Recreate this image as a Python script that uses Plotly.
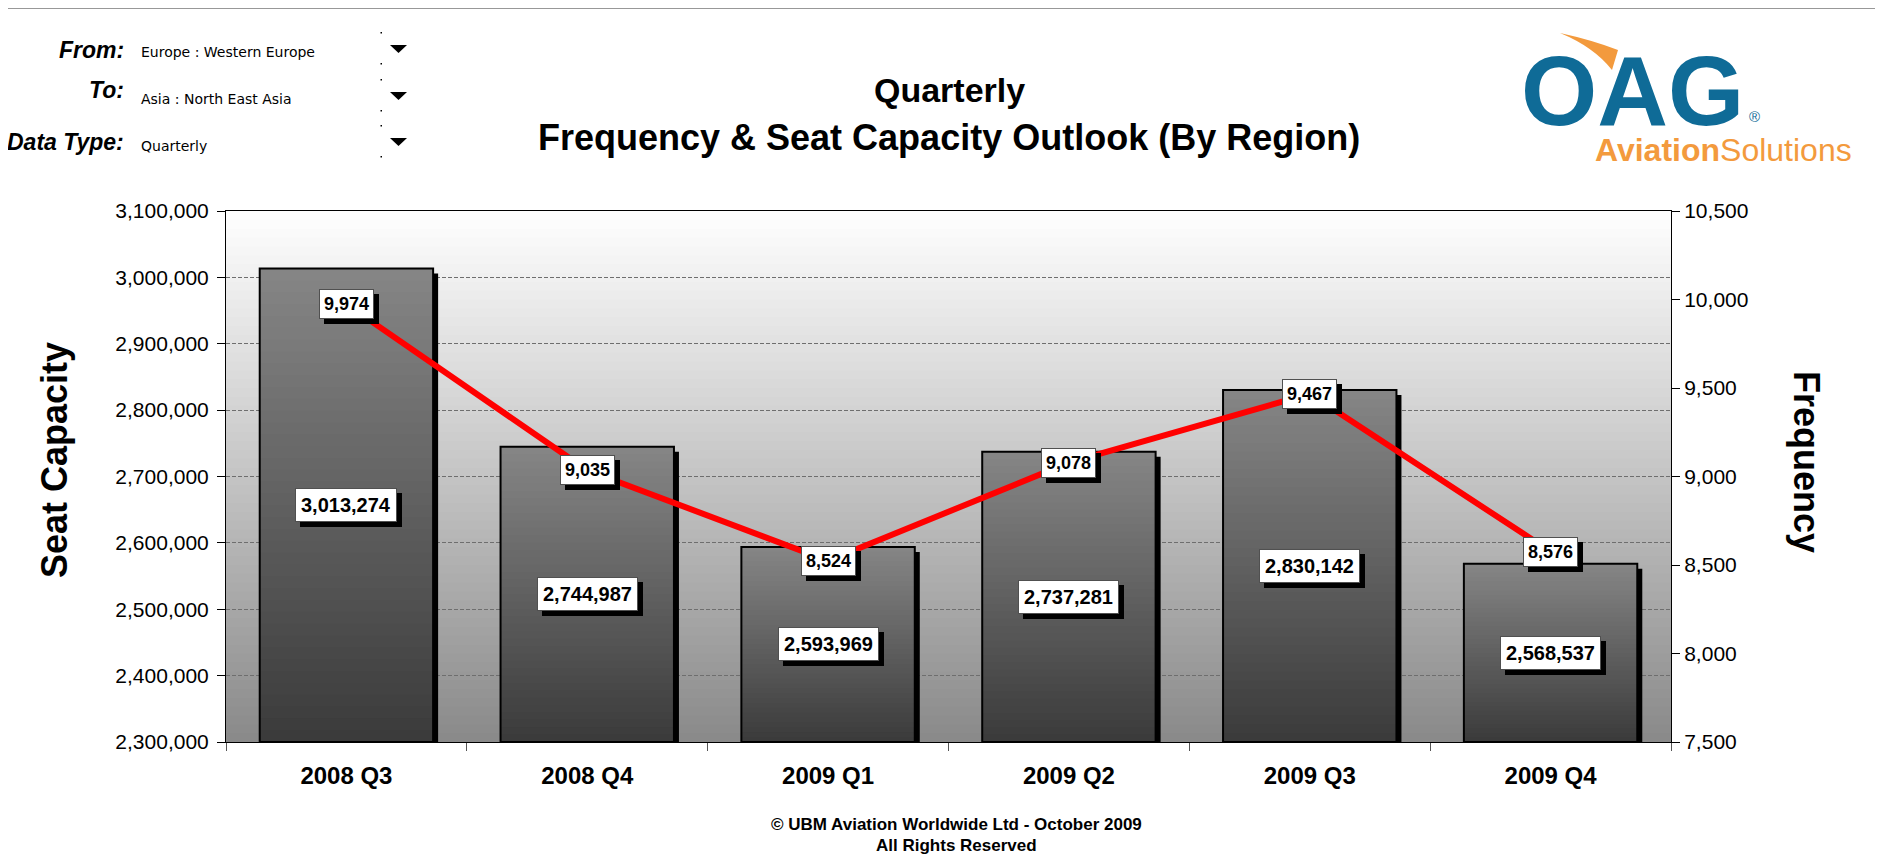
import plotly.graph_objects as go

# ---------------- data ----------------
quarters = ["2008 Q3", "2008 Q4", "2009 Q1", "2009 Q2", "2009 Q3", "2009 Q4"]
seat_capacity = [3013274, 2744987, 2593969, 2737281, 2830142, 2568537]
frequency = [9974, 9035, 8524, 9078, 9467, 8576]
seat_ticks = [2300000, 2400000, 2500000, 2600000, 2700000, 2800000, 2900000, 3000000, 3100000]
freq_ticks = [7500, 8000, 8500, 9000, 9500, 10000, 10500]

title_line1 = "Quarterly"
title_line2 = "Frequency & Seat Capacity Outlook (By Region)"
filters = [("From:", "Europe : Western Europe"),
           ("To:", "Asia : North East Asia"),
           ("Data Type:", "Quarterly")]
footer1 = "© UBM Aviation Worldwide Ltd - October 2009"
footer2 = "All Rights Reserved"

# ---------------- layout geometry (screen pixels) ----------------
W, H = 1883, 866
OFF = 8                      # default page margin around the plot div
FW, FH = W - 2 * OFF, H - 2 * OFF
L, R, T, B = 226, 1671, 211, 742
PW, PH = R - L, B - T
SEAT_MIN, SEAT_MAX = seat_ticks[0], seat_ticks[-1]
FREQ_MIN, FREQ_MAX = freq_ticks[0], freq_ticks[-1]
FONT = "Liberation Sans, Arial, Helvetica, sans-serif"


def px(x):
    return (x - L) / PW


def py(y):
    return (B - y) / PH


BAR_W = 0.72
CAT_PX = PW / len(quarters)
SH_DX = 5 / CAT_PX                       # shadow offset in category units
SH_DY = 5 / PH * (SEAT_MAX - SEAT_MIN)   # shadow offset in value units

fig = go.Figure()

# bar shadows
fig.add_trace(go.Bar(
    x=quarters, y=[v - SEAT_MIN - SH_DY for v in seat_capacity], base=SEAT_MIN,
    width=BAR_W, offset=-BAR_W / 2 + SH_DX, marker=dict(color="#000000", line=dict(width=0)),
    hoverinfo="skip", showlegend=False))

# bar gradient (nested bars, lightest/tallest first)
N = 40
top_c, bot_c = 134, 58
for k in range(N, 0, -1):
    frac = k / N
    c = int(round(bot_c + (top_c - bot_c) * (k - 0.5) / N))
    fig.add_trace(go.Bar(
        x=quarters, y=[(v - SEAT_MIN) * frac for v in seat_capacity], base=SEAT_MIN,
        width=BAR_W, offset=-BAR_W / 2,
        marker=dict(color=f"rgb({c},{c},{c})", line=dict(width=0)),
        hoverinfo="skip", showlegend=False))

# bar outline
fig.add_trace(go.Bar(
    x=quarters, y=[v - SEAT_MIN for v in seat_capacity], base=SEAT_MIN,
    width=BAR_W, offset=-BAR_W / 2,
    marker=dict(color="rgba(0,0,0,0)", line=dict(color="#000000", width=2)),
    name="Seat Capacity", showlegend=False))

# frequency line
fig.add_trace(go.Scatter(
    x=quarters, y=frequency, yaxis="y2", mode="lines",
    line=dict(color="#ff0000", width=6), name="Frequency", showlegend=False))

annotations = []


def label(x, y, yref, text, size, pad):
    for shadow in (True, False):
        annotations.append(dict(
            x=x, y=y, xref="x", yref=yref, text=f"<b>{text}</b>", showarrow=False,
            xanchor="center", yanchor="middle",
            font=dict(family=FONT, size=size, color="#000000"),
            bgcolor="#000000" if shadow else "#ffffff",
            bordercolor="#000000" if shadow else "#505050",
            borderwidth=1, borderpad=pad,
            xshift=5 if shadow else 0, yshift=-5 if shadow else 0))


for q, v in zip(quarters, seat_capacity):
    label(q, (v + SEAT_MIN) / 2, "y", f"{v:,}", 20, 5)
for q, f in zip(quarters, frequency):
    label(q, f, "y2", f"{f:,}", 18, 4)


def text_at(x, y, text, size, color="#000000", family=FONT, xanchor="center", angle=0):
    annotations.append(dict(x=px(x), y=py(y), xref="paper", yref="paper", text=text,
                            showarrow=False, xanchor=xanchor, yanchor="middle", textangle=angle,
                            font=dict(family=family, size=size, color=color)))


# axis titles
text_at(54, 460, "<b>Seat Capacity</b>", 36, angle=-90)
text_at(1807, 462, "<b>Frequency</b>", 36, angle=90)

# titles
text_at(949, 90, f"<b>{title_line1}</b>", 34)
text_at(949, 138, f"<b>{title_line2}</b>", 36)

# footer
text_at(956, 824, f"<b>{footer1}</b>", 17)
text_at(956, 845, f"<b>{footer2}</b>", 17)

# filter header
label_y = [50, 90, 142]
value_y = [52, 99, 146]
tri_y = [49, 96, 142]
shapes = []
for (lab, val), ly, vy, ty in zip(filters, label_y, value_y, tri_y):
    text_at(126, ly, f"<b><i>{lab}</i></b>", 23, xanchor="right")
    text_at(139, vy, val, 14, family="DejaVu Sans, Verdana, sans-serif", xanchor="left")
    shapes.append(dict(type="path", xref="paper", yref="paper",
                       path=f"M {px(390)},{py(ty-4)} L {px(407)},{py(ty-4)} L {px(398.5)},{py(ty+4)} Z",
                       fillcolor="#000000", line=dict(width=0)))
    for dy in (-17, 14):
        shapes.append(dict(type="rect", xref="paper", yref="paper",
                           x0=px(380.5), x1=px(382), y0=py(ty + dy), y1=py(ty + dy + 1.5),
                           fillcolor="#000000", line=dict(width=0)))

# logo
text_at(1632, 91, "<b>OAG</b>", 98, color="#0f6b97")
text_at(1754, 117, "®", 15, color="#0f6b97")
text_at(1724, 150, "<b>Aviation</b>Solutions", 32, color="#f39a3d")
shapes.append(dict(type="path", xref="paper", yref="paper",
                   path=(f"M {px(1560)},{py(33)} Q {px(1592)},{py(40)} {px(1618)},{py(50)} "
                         f"L {px(1612)},{py(70)} Q {px(1594)},{py(47)} {px(1560)},{py(33)} Z"),
                   fillcolor="#f39a3d", line=dict(width=0)))

# top rule
shapes.append(dict(type="line", xref="paper", yref="paper", x0=px(0), x1=px(W), y0=py(7), y1=py(7),
                   line=dict(color="#333333", width=3)))

# plot background gradient
NS = 60
for i in range(NS):
    t = (i + 0.5) / NS  # 0 bottom -> 1 top
    c = int(round(137 + (255 - 137) * t))
    shapes.append(dict(type="rect", xref="paper", yref="paper", x0=0, x1=1,
                       y0=i / NS, y1=min(1, (i + 1) / NS + 0.003),
                       fillcolor=f"rgb({c},{c},{c})", line=dict(width=0), layer="below"))

fig.update_layout(
    width=FW, height=FH, autosize=False,
    margin=dict(l=L - OFF, r=(W - OFF) - R, t=T - OFF, b=(H - OFF) - B, pad=0),
    paper_bgcolor="#ffffff", plot_bgcolor="#ffffff",
    barmode="overlay", showlegend=False,
    font=dict(family=FONT, color="#000000"),
    annotations=annotations, shapes=shapes,
    xaxis=dict(type="category", range=[-0.5, len(quarters) - 0.5], categoryorder="array",
               categoryarray=quarters, showline=True, linecolor="#000000", linewidth=1, mirror=True,
               ticks="outside", tickson="boundaries", ticklen=8, tickcolor="#555555",
               tickfont=dict(family=FONT, size=24, color="#000000", weight="bold"),
               ticklabelstandoff=12, showgrid=False, zeroline=False),
    yaxis=dict(range=[SEAT_MIN, SEAT_MAX], tickvals=seat_ticks, tickformat=",d",
               ticks="outside", ticklen=8, tickcolor="#000000", showline=True, linecolor="#000000",
               linewidth=1, showgrid=True, gridcolor="#6e6e6e", gridwidth=1, griddash="4px,2px",
               zeroline=False, tickfont=dict(family=FONT, size=21, color="#000000"),
               ticklabelstandoff=4),
    yaxis2=dict(range=[FREQ_MIN, FREQ_MAX], tickvals=freq_ticks, tickformat=",d",
                overlaying="y", side="right", ticks="outside", ticklen=8, tickcolor="#000000",
                showline=True, linecolor="#000000", linewidth=1, showgrid=False, zeroline=False,
                tickfont=dict(family=FONT, size=21, color="#000000")),
)

fig.write_html("out.html")
